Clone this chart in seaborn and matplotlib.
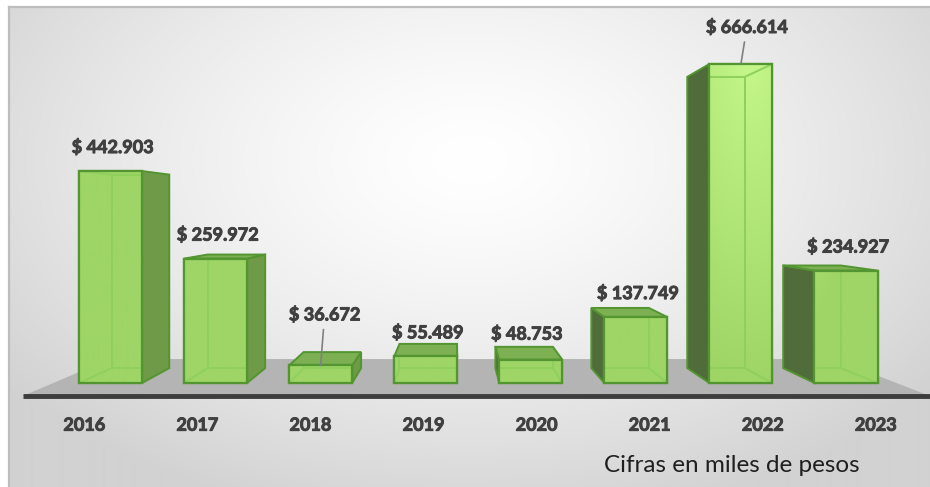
import numpy as np
import pandas as pd
import matplotlib
matplotlib.use("Agg")
import matplotlib.pyplot as plt
import matplotlib.patheffects as pe
import seaborn as sns
from matplotlib.patches import Polygon, Rectangle
from matplotlib.colors import to_rgb

# Annual amounts, in thousands of pesos
years = ["2016", "2017", "2018", "2019", "2020", "2021", "2022", "2023"]
amounts = [442903, 259972, 36672, 55489, 48753, 137749, 666614, 234927]
note_text = "Cifras en miles de pesos"

df = pd.DataFrame({"year": years, "amount": amounts})

sns.set_theme(style="white")
plt.rcParams["font.family"] = ["Lato", "DejaVu Sans"]

W, H, DPI = 930, 487, 100

# pixel layout of the plot area
FRAME_X, FRAME_Y = 9, 7
AX_BOTTOM = 400      # bottom edge of the bar axes (px from top)
BASE_Y = 383         # bar baseline
PEAK_Y = 64          # top of the tallest bar
FIRST_X = 110.5      # centre of the first bar
STEP_X = 105.07      # spacing between bars
VANISH = (455, 212)  # perspective vanishing point
DEPTH_BACK = 0.913
DEPTH_FLOOR_FRONT = 1.076
DEPTH_FLOOR_BACK = 0.86
FLOOR_SPAN = (-0.545, 7.48)

FRONT = "#9ed566"
FRONT_LIT = "#c6f88c"
EDGE = "#539530"
INNER = "#8fd05c"
SIDE_R = "#6f9a48"
SIDE_L = "#506c3a"
TOP = "#7cb052"
FLOOR = "#b4b4b4"
TEXT = "#404040"
BOLDEN = [pe.withStroke(linewidth=0.7, foreground=TEXT)]

fig = plt.figure(figsize=(W / DPI, H / DPI), dpi=DPI, facecolor="white")

# framed background with soft radial shading
bg = fig.add_axes([FRAME_X / W, 0, 1 - FRAME_X / W, (H - FRAME_Y) / H])
GX, GY = np.meshgrid(np.arange(FRAME_X, W) + 0.5, np.arange(FRAME_Y, H) + 0.5)
dist = np.sqrt(((GX - 470) / 580) ** 2 + ((GY - 160) / 370) ** 2)
t = np.clip(dist, 0, 1)[..., None] ** 1.4
bg_img = np.ones(3) * (1 - t) + np.array(to_rgb("#d2d2d2")) * t
bg.imshow(bg_img, extent=(0, 1, 0, 1), aspect="auto", origin="upper",
          interpolation="bilinear")
bg.set_xlim(0, 1)
bg.set_ylim(0, 1)
bg.set_xticks([])
bg.set_yticks([])
for side in ("right", "bottom"):
    bg.spines[side].set_visible(False)
for side in ("top", "left"):
    bg.spines[side].set_color("#bdbdbd")
    bg.spines[side].set_linewidth(1.6)

# bar axes
ax = fig.add_axes([0, (H - AX_BOTTOM) / H, 1, AX_BOTTOM / H])
ax.patch.set_visible(False)

sns.barplot(data=df, x="year", y="amount", ax=ax, width=0.6, color=FRONT,
            saturation=1, edgecolor=EDGE, linewidth=1.6, errorbar=None, zorder=5)
bars = list(ax.patches)

unit = max(amounts) / (BASE_Y - PEAK_Y)
xlim = (-FIRST_X / STEP_X, (W - FIRST_X) / STEP_X)
ylim = (-(AX_BOTTOM - BASE_Y) * unit, BASE_Y * unit)
vx = (VANISH[0] - FIRST_X) / STEP_X
vy = (BASE_Y - VANISH[1]) * unit


def depth(x, y, s):
    """Point pushed along the line of sight towards the vanishing point."""
    return (vx + s * (x - vx), vy + s * (y - vy))


# floor slab
xl, xr = FLOOR_SPAN
floor = [depth(xl, 0, DEPTH_FLOOR_FRONT), depth(xr, 0, DEPTH_FLOOR_FRONT),
         depth(xr, 0, DEPTH_FLOOR_BACK), depth(xl, 0, DEPTH_FLOOR_BACK)]
ax.add_patch(Polygon(floor, closed=True, facecolor=FLOOR, edgecolor="none", zorder=1))
ax.plot([floor[0][0], floor[1][0]], [floor[0][1], floor[1][1]], color="#3d3d3d",
        lw=3.5, solid_capstyle="butt", zorder=2, clip_on=False)

# lighting on the front faces
PX, PY = np.meshgrid(np.arange(W) + 0.5, np.arange(AX_BOTTOM) + 0.5)
lit = np.clip(1 - np.sqrt(((PX - 750) / 120) ** 2 + ((PY - 50) / 330) ** 2), 0, 1)[..., None]
shade = np.array(to_rgb(FRONT)) * (1 - lit) + np.array(to_rgb(FRONT_LIT)) * lit

for bar in bars:
    x0 = bar.get_x()
    x1 = x0 + bar.get_width()
    h = bar.get_height()
    f = {"bl": (x0, 0), "br": (x1, 0), "tr": (x1, h), "tl": (x0, h)}
    b = {k: depth(*p, DEPTH_BACK) for k, p in f.items()}

    if x1 < vx:
        ax.add_patch(Polygon([f["br"], f["tr"], b["tr"], b["br"]], closed=True,
                             facecolor=SIDE_R, edgecolor=EDGE, lw=1.4, zorder=3))
    if x0 > vx:
        ax.add_patch(Polygon([f["bl"], f["tl"], b["tl"], b["bl"]], closed=True,
                             facecolor=SIDE_L, edgecolor=EDGE, lw=1.4, zorder=3))
    if h < vy:
        ax.add_patch(Polygon([f["tl"], f["tr"], b["tr"], b["tl"]], closed=True,
                             facecolor=TOP, edgecolor=EDGE, lw=1.4, zorder=3.5))

    im = ax.imshow(shade, extent=(*xlim, *ylim), origin="upper", aspect="auto",
                   interpolation="bilinear", zorder=5.2)
    im.set_clip_path(bar)

    # rear edges showing through the glassy front face
    hidden = [[b["bl"], b["br"], b["tr"], b["tl"], b["bl"]],
              [f["bl"], b["bl"]], [f["br"], b["br"]], [f["tl"], b["tl"]], [f["tr"], b["tr"]]]
    for seg in hidden:
        sx, sy = zip(*seg)
        ln, = ax.plot(sx, sy, color=INNER, lw=1.4, zorder=6)
        ln.set_clip_path(bar)

    ax.add_patch(Rectangle((x0, 0), x1 - x0, h, fill=False, edgecolor=EDGE,
                           lw=1.6, zorder=7))

# value labels
LABEL_SHIFT = {"2018": (4, 51), "2020": (-4, 26), "2022": (6, 37)}
LEADER = {"2018", "2022"}
for bar, year, amount in zip(bars, years, amounts):
    cx = bar.get_x() + bar.get_width() / 2
    dx, dy = LABEL_SHIFT.get(year, (2, 24))
    label = "$ " + f"{amount:,}".replace(",", ".")
    arrow = (dict(arrowstyle="-", color="#808080", lw=1.2, shrinkA=2, shrinkB=0)
             if year in LEADER else None)
    ax.annotate(label, xy=(cx, bar.get_height()),
                xytext=(dx * 72 / DPI, dy * 72 / DPI), textcoords="offset points",
                ha="center", va="center", fontsize=13, fontweight="bold",
                color=TEXT, arrowprops=arrow, zorder=8, path_effects=BOLDEN)

# year labels sit on the front edge of the floor
tick_x = [depth(bar.get_x() + bar.get_width() / 2, 0, DEPTH_FLOOR_FRONT)[0] for bar in bars]
ax.set_xticks(tick_x)
ax.set_xticklabels(years, fontsize=13, fontweight="bold", color=TEXT)
for lbl in ax.get_xticklabels():
    lbl.set_path_effects(BOLDEN)
ax.tick_params(axis="x", length=0, pad=12)
ax.set_yticks([])
ax.set_xlabel("")
ax.set_ylabel("")
for s in ax.spines.values():
    s.set_visible(False)
ax.set_xlim(xlim)
ax.set_ylim(ylim)

fig.text(732 / W, 1 - 466 / H, note_text, ha="center", va="center",
         fontsize=17.5, color="#1f1f1f")

fig.savefig("out.png", dpi=DPI)
